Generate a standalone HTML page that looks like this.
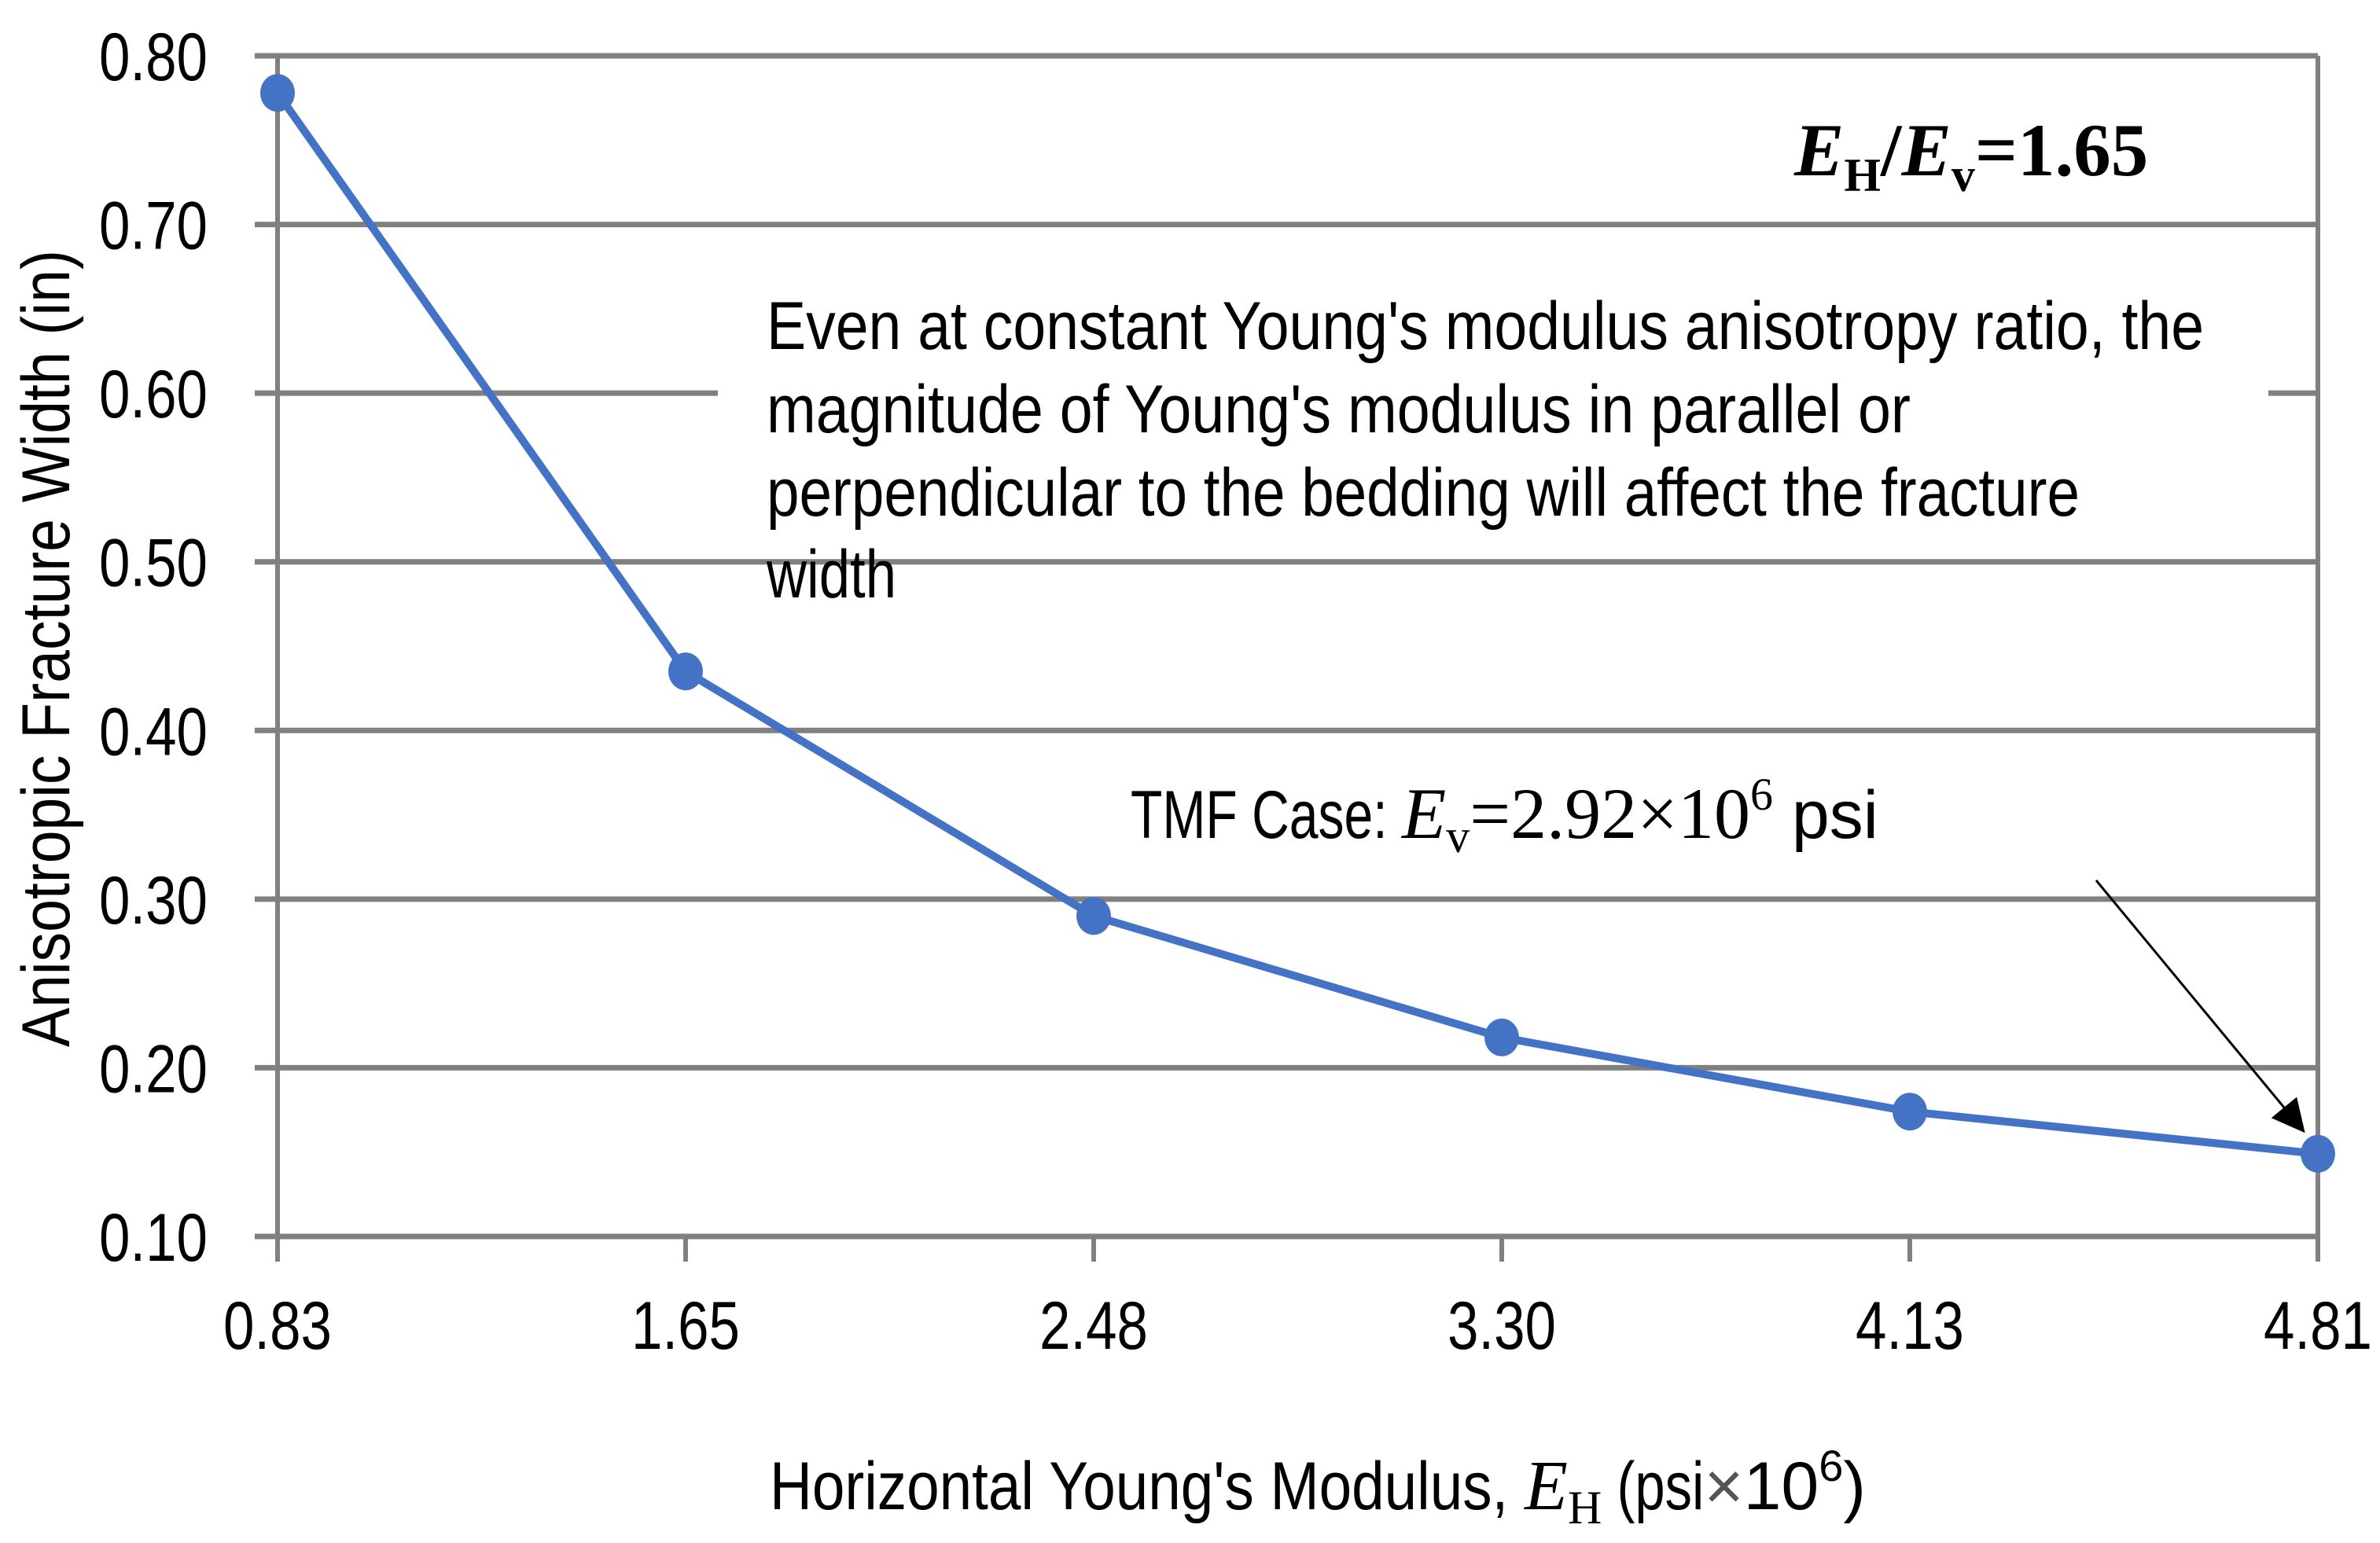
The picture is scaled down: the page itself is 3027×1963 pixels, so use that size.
<!DOCTYPE html>
<html><head><meta charset="utf-8"><style>
html,body{margin:0;padding:0;background:#fff;}
svg{display:block;}
text{font-family:"Liberation Sans",Arial,sans-serif;fill:#000;}
.serif{font-family:"Liberation Serif","Times New Roman",serif;}
</style></head><body>
<svg id="chart" width="3027" height="1963" viewBox="0 0 3027 1963" xmlns="http://www.w3.org/2000/svg">
<defs><marker id="ah" viewBox="0 0 10 10" refX="9" refY="5" markerWidth="14" markerHeight="14" orient="auto" markerUnits="strokeWidth"><path d="M0,0 L10,5 L0,10 z" fill="#000"/></marker></defs>
<g id="grid"></g>
<g id="axes"></g>
<rect x="913" y="380" width="1972" height="320" fill="#fff"/>
<line id="g50" x1="324" x2="2948" stroke="#808080" stroke-width="7"/>
<g id="series"></g>
<g id="labels"></g>
<g font-size="86">
<text x="975" y="444" textLength="1828" lengthAdjust="spacingAndGlyphs">Even at constant Young's modulus anisotropy ratio, the</text>
<text x="975" y="550" textLength="1455" lengthAdjust="spacingAndGlyphs">magnitude of Young's modulus in parallel or</text>
<text x="975" y="656" textLength="1670" lengthAdjust="spacingAndGlyphs">perpendicular to the bedding will affect the fracture</text>
<text x="975" y="760" textLength="165" lengthAdjust="spacingAndGlyphs">width</text>
</g>
<text class="serif" x="2282" y="223" font-size="95" font-weight="bold"><tspan font-style="italic">E</tspan><tspan font-size="60" dy="20">H</tspan><tspan dy="-20">/</tspan><tspan font-style="italic">E</tspan><tspan font-size="60" dy="20">v</tspan><tspan dy="-20">=1.65</tspan></text>
<text x="1438" y="1066" font-size="86"><tspan textLength="345" lengthAdjust="spacingAndGlyphs">TMF Case: </tspan><tspan class="serif" font-style="italic" font-size="92">E</tspan><tspan class="serif" font-size="60" dy="18">v</tspan><tspan class="serif" font-size="92" dy="-18">=2.92×10</tspan><tspan class="serif" font-size="58" dy="-36">6</tspan><tspan dy="36"> psi</tspan></text>
<line x1="2666" y1="1120" x2="2929" y2="1438" stroke="#000" stroke-width="3" marker-end="url(#ah)"/>
<text x="979" y="1920" font-size="86"><tspan textLength="960" lengthAdjust="spacingAndGlyphs">Horizontal Young's Modulus, </tspan><tspan class="serif" font-style="italic" font-size="90">E</tspan><tspan class="serif" font-size="60" dy="18">H</tspan><tspan dy="-18" textLength="130" lengthAdjust="spacingAndGlyphs"> (psi</tspan><tspan fill="#555">×</tspan><tspan>10</tspan><tspan font-size="56" dy="-36">6</tspan><tspan dy="36">)</tspan></text>
<text transform="translate(88,825) rotate(-90)" text-anchor="middle" font-size="86" textLength="1014" lengthAdjust="spacingAndGlyphs">Anisotropic Fracture Width (in)</text>
</svg>
<script>
const categories = ["0.83","1.65","2.48","3.30","4.13","4.81"];
const widths = [0.778, 0.435, 0.290, 0.218, 0.174, 0.149];
const yTicks = [0.10,0.20,0.30,0.40,0.50,0.60,0.70,0.80];
const yTickLabels = ["0.10","0.20","0.30","0.40","0.50","0.60","0.70","0.80"];
const NS="http://www.w3.org/2000/svg";
const L=353,R=2948,T=71,B=1573,YMIN=0.10,YMAX=0.80;
const xs=i=>L+(R-L)*i/(categories.length-1);
const ys=v=>B-(v-YMIN)/(YMAX-YMIN)*(B-T);
function mk(tag,attrs,parent){const e=document.createElementNS(NS,tag);for(const k in attrs)e.setAttribute(k,attrs[k]);parent.appendChild(e);return e;}
const grid=document.getElementById('grid'),axes=document.getElementById('axes'),labels=document.getElementById('labels'),series=document.getElementById('series');
yTicks.forEach((v,i)=>{
  const y=ys(v);
  if(Math.abs(v-0.5)<1e-9){const g=document.getElementById('g50');g.setAttribute('y1',y);g.setAttribute('y2',y);}
  else{const ln=mk('line',{x1:324,x2:R,y1:y,y2:y,stroke:'#808080','stroke-width':7},grid);
  
  }
  const t=mk('text',{x:264,y:y+31,'text-anchor':'end','font-size':86,textLength:138,lengthAdjust:'spacingAndGlyphs'},labels);
  t.textContent=yTickLabels[i];
  
  
});
const la=mk('line',{x1:L,x2:L,y1:T,y2:1605,stroke:'#808080','stroke-width':6},axes);


categories.forEach((c,i)=>{
  const x=xs(i);
  const tk=mk('line',{x1:x,x2:x,y1:i===categories.length-1?T:B,y2:1605,stroke:'#808080','stroke-width':6},axes);
  
  
  const t=mk('text',{x:x,y:1716,'text-anchor':'middle','font-size':86,textLength:138,lengthAdjust:'spacingAndGlyphs'},labels);
  t.textContent=c;
  
  
});
const pts=widths.map((v,i)=>xs(i)+','+ys(v)).join(' ');
const pl=mk('polyline',{points:pts,fill:'none',stroke:'#4472C4','stroke-width':10,'stroke-linejoin':'round'},series);


widths.forEach((v,i)=>{
  const c=mk('ellipse',{cx:xs(i),cy:ys(v),rx:22,ry:24,fill:'#4472C4'},series);
  
  
});
</script>
</body></html>
